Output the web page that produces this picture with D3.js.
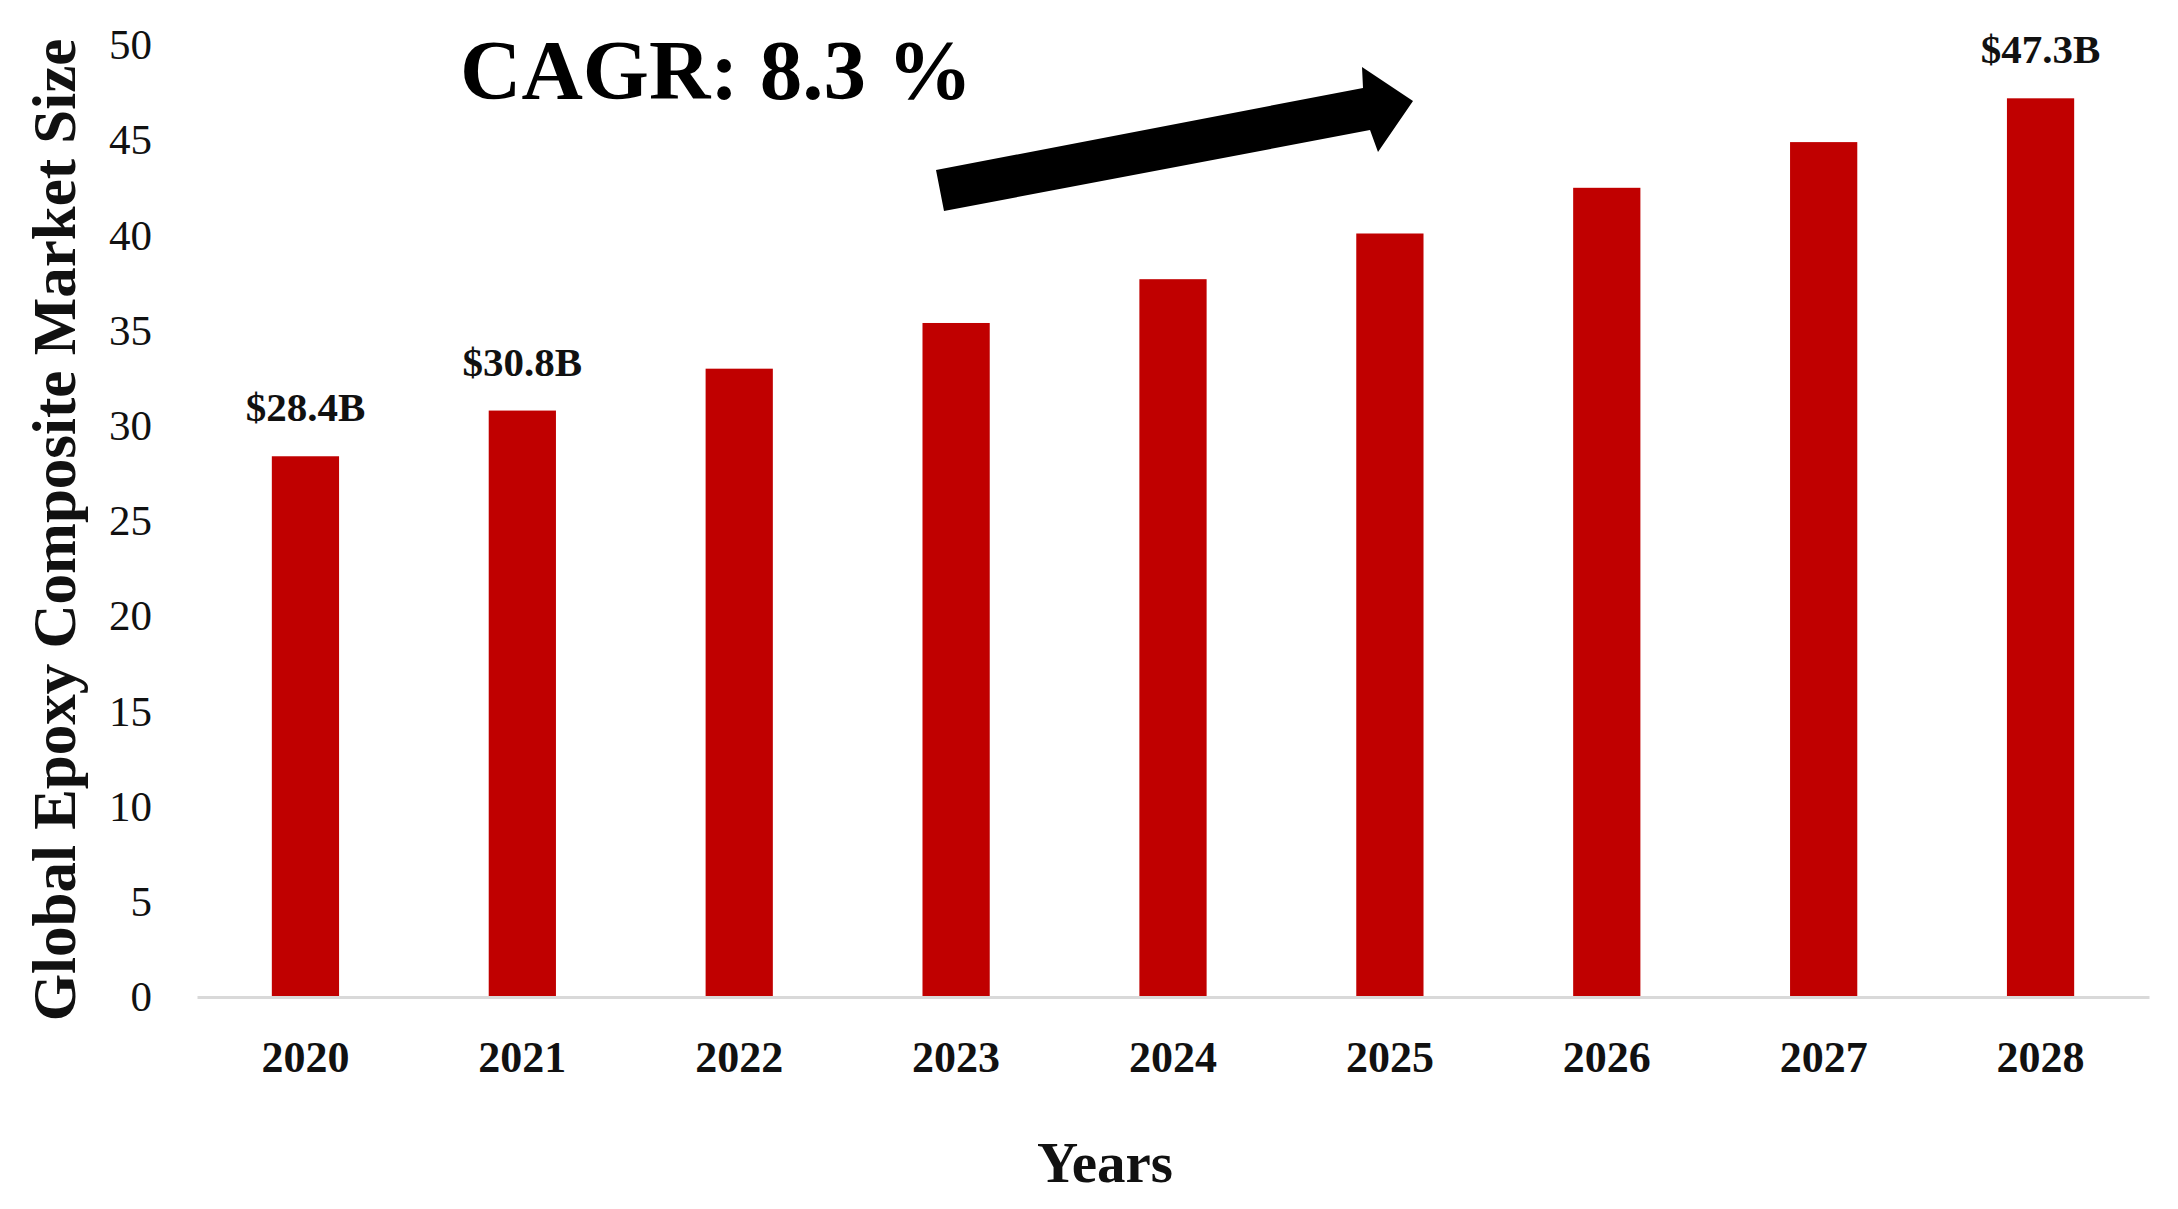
<!DOCTYPE html>
<html>
<head>
<meta charset="utf-8">
<script src="https://cdn.jsdelivr.net/npm/d3@7"></script>
<style>
  body { margin: 0; background: #fff; }
  svg { display: block; font-family: "Liberation Serif", "Times New Roman", serif; }
</style>
</head>
<body>
<svg width="2178" height="1209"></svg>
<script>
// chart data
var years = ["2020", "2021", "2022", "2023", "2024", "2025", "2026", "2027", "2028"];
var marketSize = [28.4, 30.8, 33.0, 35.4, 37.7, 40.1, 42.5, 44.9, 47.2];
var valueLabels = ["$28.4B", "$30.8B", "", "", "", "", "", "", "$47.3B"];
var yTicks = [0, 5, 10, 15, 20, 25, 30, 35, 40, 45, 50];

var svg = d3.select("svg");

// scales
var x = d3.scaleBand()
    .domain(years)
    .range([197, 2149])
    .paddingInner(0.69)
    .paddingOuter(0.345);

var y = d3.scaleLinear()
    .domain([0, 50])
    .range([997, 45]);

// bars
svg.append("g")
  .selectAll("rect")
  .data(years)
  .join("rect")
    .attr("x", function(d) { return x(d); })
    .attr("y", function(d, i) { return y(marketSize[i]); })
    .attr("width", x.bandwidth())
    .attr("height", function(d, i) { return y(0) - y(marketSize[i]); })
    .attr("fill", "#c00000");

// value labels
svg.append("g")
  .selectAll("text")
  .data(years)
  .join("text")
    .attr("x", function(d) { return x(d) + x.bandwidth() / 2; })
    .attr("y", function(d, i) { return y(marketSize[i]) - 35; })
    .attr("text-anchor", "middle")
    .style("font-size", "41px")
    .style("font-weight", "bold")
    .attr("fill", "#111")
    .text(function(d, i) { return valueLabels[i]; });

// y axis
var yAxis = svg.append("g")
    .attr("transform", "translate(197,0)")
    .call(d3.axisLeft(y).tickValues(yTicks).tickSize(0).tickPadding(45));
yAxis.select(".domain").remove();
yAxis.selectAll("text")
    .style("font-size", "43px")
    .style("font-family", "Liberation Serif, serif")
    .attr("fill", "#111");

// x axis
var xAxis = svg.append("g")
    .attr("transform", "translate(0," + y(0) + ")")
    .call(d3.axisBottom(x).tickSize(0).tickSizeOuter(0).tickPadding(44));
xAxis.select(".domain")
    .attr("stroke", "#d9d9d9")
    .attr("stroke-width", 3);
xAxis.selectAll("text")
    .style("font-size", "44px")
    .style("font-weight", "bold")
    .style("font-family", "Liberation Serif, serif")
    .attr("fill", "#111");

// axis titles
svg.append("text")
    .attr("x", 1105)
    .attr("y", 1182)
    .attr("text-anchor", "middle")
    .style("font-size", "57px")
    .style("font-weight", "bold")
    .attr("fill", "#111")
    .text("Years");

svg.append("text")
    .attr("transform", "translate(75,530) rotate(-90)")
    .attr("text-anchor", "middle")
    .style("font-size", "61px")
    .style("font-weight", "bold")
    .attr("fill", "#111")
    .text("Global Epoxy Composite Market Size");

// CAGR annotation
svg.append("text")
    .attr("x", 460)
    .attr("y", 99)
    .style("font-size", "85px")
    .style("font-weight", "bold")
    .attr("fill", "#000")
    .text("CAGR: 8.3 %");

// arrow
var arrowPts = [
  [936, 170], [1363, 88], [1362, 67], [1413, 101],
  [1378, 152], [1370, 130], [944, 211]
];
svg.append("path")
    .attr("d", d3.line()(arrowPts) + "Z")
    .attr("fill", "#000");
</script>
</body>
</html>
